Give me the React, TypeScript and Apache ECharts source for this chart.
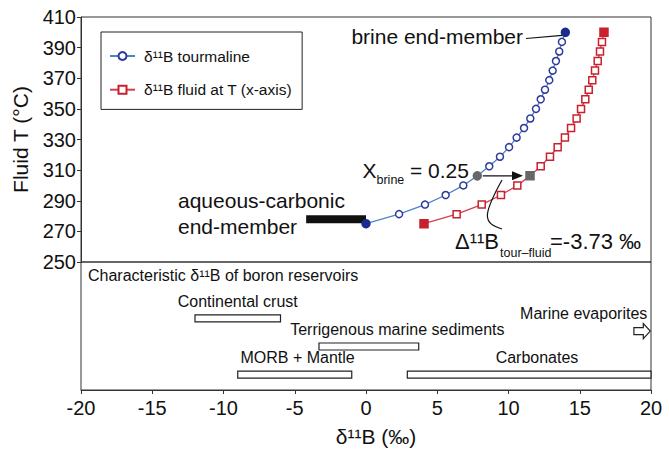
import React, { useEffect, useRef } from "react";
import * as echarts from "echarts";

const FONT = "'Liberation Sans', Arial, Helvetica, sans-serif";

// Mixing model: temperature steps (°C)
const temperatureT = [275, 281.25, 287.5, 293.75, 300, 306.25, 312.5, 318.75, 325, 331.25, 337.5, 343.75, 350, 356.25, 362.5, 368.75, 375, 381.25, 387.5, 393.75, 400];
// δ11B tourmaline (‰)
const tourmalineX = [0, 2.32, 4.14, 5.59, 6.83, 7.81, 8.65, 9.4, 10.04, 10.57, 11.09, 11.53, 11.93, 12.26, 12.56, 12.86, 13.1, 13.33, 13.56, 13.75, 13.99];
// δ11B fluid at T (‰)
const fluidX = [4.07, 6.36, 8.12, 9.47, 10.62, 11.51, 12.26, 12.91, 13.45, 13.96, 14.39, 14.78, 15.09, 15.39, 15.63, 15.88, 16.07, 16.26, 16.42, 16.56, 16.7];
// index of X_brine = 0.25
const MIX_INDEX = 5;

// aqueous-carbonic end-member bar
const aqueousBarX = [-4.2, 0];
const aqueousBarT = [278, 278];

// boron reservoirs (bottom panel)
const reservoirNames = ["Continental crust", "Terrigenous marine sediments", "MORB + Mantle", "Carbonates"];
const reservoirMin = [-12, -3.3, -9, 2.9];
const reservoirMax = [-6, 3.7, -1, 20];
const reservoirLevel = [5.6, 3.4, 1.2, 1.2];
const reservoirLabelX = [-9, 2.2, -4.8, 12];
const evaporiteName = "Marine evaporites";
const evaporiteFrom = [18.8];
const evaporiteTo = [19.95];
const evaporiteLevel = [4.6];

const xTicks = { min: -20, max: 20, interval: 5 };
const yTicks = { min: 250, max: 410, interval: 20 };

const NAME_TOUR = "δ¹¹B tourmaline";
const NAME_FLUID = "δ¹¹B fluid at T (x-axis)";

const BLUE_LINE = "#4f83c9";
const BLUE_MARK = "#2d3a9c";
const RED_LINE = "#d1404c";
const RED_MARK = "#c8202e";
const GRAY = "#676767";
const INK = "#111";

function buildSeriesData(xs: number[], filled: string) {
  const last = xs.length - 1;
  return xs.map((x, i) => {
    const item: any = { value: [x, temperatureT[i]] };
    if (i === 0 || i === last) {
      item.itemStyle = { color: filled, borderColor: filled };
      item.symbolSize = 8;
    } else if (i === MIX_INDEX) {
      item.itemStyle = { color: GRAY, borderColor: GRAY };
      item.symbolSize = 8;
    }
    return item;
  });
}

export default function App() {
  const ref = useRef<HTMLDivElement>(null);
  useEffect(() => {
    if (!ref.current) return;
    const chart = echarts.init(ref.current, null, { renderer: "svg" });
    const axisColor = "#333";
    const option: any = {
      animation: false,
      textStyle: { fontFamily: FONT },
      grid: [
        { left: 81, right: 18, top: 17, height: 245, show: true, borderColor: axisColor, borderWidth: 1, backgroundColor: "transparent" },
        { left: 81, right: 18, top: 262, height: 128, show: true, borderColor: axisColor, borderWidth: 1, backgroundColor: "transparent" },
      ],
      xAxis: [
        { gridIndex: 0, type: "value", ...xTicks, show: false },
        {
          gridIndex: 1, type: "value", ...xTicks,
          axisLine: { show: true, onZero: false, lineStyle: { color: axisColor, width: 1 } },
          axisTick: { show: true, inside: false, length: 4, lineStyle: { color: axisColor } },
          splitLine: { show: false },
          axisLabel: { fontSize: 20, color: INK, margin: 8, fontFamily: FONT },
          name: "δ¹¹B (‰)", nameLocation: "middle", nameGap: 36,
          nameTextStyle: { fontSize: 21, color: INK, fontFamily: FONT, padding: [0, 0, 0, 20] },
        },
      ],
      yAxis: [
        {
          gridIndex: 0, type: "value", ...yTicks,
          axisLine: { show: true, onZero: false, lineStyle: { color: axisColor, width: 1 } },
          axisTick: { show: true, inside: false, length: 4, lineStyle: { color: axisColor } },
          splitLine: { show: false },
          axisLabel: { fontSize: 20, color: INK, margin: 5, fontFamily: FONT },
          name: "Fluid T (°C)", nameLocation: "middle", nameGap: 50,
          nameTextStyle: { fontSize: 21, color: INK, fontFamily: FONT },
        },
        { gridIndex: 1, type: "value", min: 0, max: 10, show: false },
      ],
      legend: {
        data: [NAME_TOUR, NAME_FLUID], orient: "vertical", left: 101, top: 32,
        itemWidth: 25, itemHeight: 10, itemGap: 17.7,
        padding: [16, 10, 11.7, 8], borderColor: "#222", borderWidth: 1, backgroundColor: "#fff",
        textStyle: { fontSize: 15.5, color: INK, fontFamily: FONT, padding: [0, 0, 0, 4] },
      },
      series: [
        {
          name: "aqueous-carbonic", type: "line", xAxisIndex: 0, yAxisIndex: 0,
          data: aqueousBarX.map((x, i) => [x, aqueousBarT[i]]),
          symbol: "none", lineStyle: { color: INK, width: 8, cap: "butt" }, z: 2, silent: true,
        },
        {
          name: NAME_TOUR, type: "line", xAxisIndex: 0, yAxisIndex: 0,
          data: buildSeriesData(tourmalineX, "#1f2a8f"),
          symbol: "circle", symbolSize: 7, showAllSymbol: true,
          lineStyle: { color: BLUE_LINE, width: 1.3 },
          itemStyle: { color: "#fff", borderColor: BLUE_MARK, borderWidth: 1.5 }, z: 3,
        },
        {
          name: NAME_FLUID, type: "line", xAxisIndex: 0, yAxisIndex: 0,
          data: buildSeriesData(fluidX, RED_MARK),
          symbol: "rect", symbolSize: 7, showAllSymbol: true,
          lineStyle: { color: RED_LINE, width: 1.3 },
          itemStyle: { color: "#fff", borderColor: RED_MARK, borderWidth: 1.5 }, z: 3,
        },
        {
          name: "reservoirs", type: "custom", xAxisIndex: 1, yAxisIndex: 1, clip: false,
          data: reservoirNames.map((_, i) => [reservoirMin[i], reservoirMax[i], reservoirLevel[i], reservoirLabelX[i]]),
          renderItem: (params: any, api: any) => {
            const i = params.dataIndex;
            const a = api.coord([api.value(0), api.value(2)]);
            const b = api.coord([api.value(1), api.value(2)]);
            const l = api.coord([api.value(3), api.value(2)]);
            return {
              type: "group",
              children: [
                { type: "rect", shape: { x: a[0], y: a[1] - 3.5, width: b[0] - a[0], height: 7 }, style: { fill: "#fff", stroke: "#222", lineWidth: 1.2 } },
                { type: "text", x: l[0], y: l[1] - 17, style: { text: reservoirNames[i], fontSize: 16, fontFamily: FONT, fill: INK, textAlign: "center", textVerticalAlign: "middle" } },
              ],
            };
          },
        },
        {
          name: "evaporites", type: "custom", xAxisIndex: 1, yAxisIndex: 1, clip: false,
          data: evaporiteFrom.map((x, i) => [x, evaporiteTo[i], evaporiteLevel[i]]),
          renderItem: (params: any, api: any) => {
            const a = api.coord([api.value(0), api.value(2)]);
            const b = api.coord([api.value(1), api.value(2)]);
            const y = a[1];
            const hx = b[0] - 7;
            return {
              type: "group",
              children: [
                {
                  type: "polygon",
                  shape: { points: [[a[0], y - 3.5], [hx, y - 3.5], [hx, y - 7.5], [b[0], y], [hx, y + 7.5], [hx, y + 3.5], [a[0], y + 3.5]] },
                  style: { fill: "#fff", stroke: "#222", lineWidth: 1.2 },
                },
                { type: "text", x: b[0] - 3, y: y - 18, style: { text: evaporiteName, fontSize: 16, fontFamily: FONT, fill: INK, textAlign: "right", textVerticalAlign: "middle" } },
              ],
            };
          },
        },
      ],
    };
    chart.setOption(option);

    const bp = chart.convertToPixel({ gridIndex: 0 }, [tourmalineX[MIX_INDEX], temperatureT[MIX_INDEX]]) as number[];
    const rp = chart.convertToPixel({ gridIndex: 0 }, [fluidX[MIX_INDEX], temperatureT[MIX_INDEX]]) as number[];
    const top = chart.convertToPixel({ gridIndex: 0 }, [tourmalineX[tourmalineX.length - 1], temperatureT[temperatureT.length - 1]]) as number[];
    const tip = rp[0] - 7;
    const txt = (text: string, x: number, y: number, size: number, align = "left") => ({
      type: "text", x, y, z: 10,
      style: { text, fontSize: size, fontFamily: FONT, fill: INK, textAlign: align, textVerticalAlign: "middle" },
    });
    chart.setOption({
      graphic: [
        txt("Characteristic δ¹¹B of boron reservoirs", 88, 275, 16),
        txt("brine end-member", 523, 36, 21, "right"),
        { type: "line", z: 10, shape: { x1: 526, y1: 38.5, x2: top[0] - 3, y2: top[1] + 3 }, style: { stroke: INK, lineWidth: 1.2 } },
        txt("aqueous-carbonic", 178, 200, 21),
        txt("end-member", 178, 226, 21),
        txt("X", 362.5, 170, 21),
        txt("brine", 376.5, 180, 12.5),
        txt("= 0.25", 410, 170, 21),
        { type: "line", z: 10, shape: { x1: bp[0] + 5.5, y1: bp[1], x2: tip - 8, y2: bp[1] }, style: { stroke: INK, lineWidth: 1.4 } },
        { type: "polygon", z: 10, shape: { points: [[tip, bp[1]], [tip - 11, bp[1] - 4.5], [tip - 11, bp[1] + 4.5]] }, style: { fill: INK } },
        { type: "bezierCurve", z: 10, shape: { x1: 502, y1: 180, cpx1: 482, cpy1: 216, cpx2: 483, cpy2: 223, x2: 502, y2: 229 }, style: { stroke: INK, lineWidth: 1.2, fill: "none" } },
        txt("Δ¹¹B", 455, 241, 22),
        txt("tour–fluid", 500, 253, 12.5),
        txt("=-3.73 ‰", 550, 241, 22),
      ],
    });
    return () => chart.dispose();
  }, []);
  return <div ref={ref} style={{ position: "absolute", left: 0, top: 0, width: 669, height: 459 }} />;
}
